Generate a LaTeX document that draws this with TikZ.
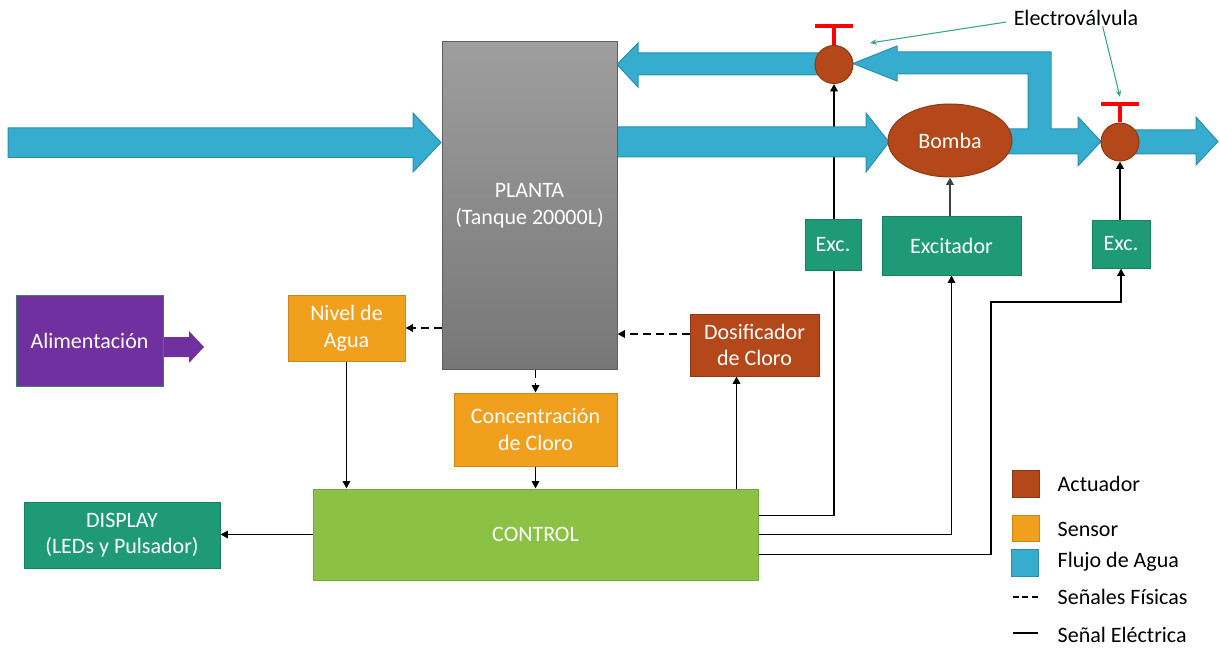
\documentclass[tikz,border=0pt]{standalone}
\usepackage{fontspec}
\setmainfont{Carlito}
\usetikzlibrary{arrows.meta,shapes.geometric,calc}

\definecolor{flowfill}{HTML}{36ADCF}
\definecolor{flowedge}{HTML}{2B8EAD}
\definecolor{actfill}{HTML}{B4481A}
\definecolor{actedge}{HTML}{8E3814}
\definecolor{senfill}{HTML}{F0A01C}
\definecolor{senedge}{HTML}{C98619}
\definecolor{excfill}{HTML}{1E9A77}
\definecolor{excedge}{HTML}{17805F}
\definecolor{ctrlfill}{HTML}{8BC145}
\definecolor{ctrledge}{HTML}{77A83A}
\definecolor{powfill}{HTML}{7030A0}
\definecolor{powedge}{HTML}{3E7F6E}
\definecolor{tanktop}{HTML}{9E9E9E}
\definecolor{tankbot}{HTML}{777777}
\definecolor{tankedge}{HTML}{5E5E5E}
\definecolor{notegreen}{HTML}{3AA57F}

\pgfdeclarelayer{wires}
\pgfsetlayers{wires,main}

\begin{document}
\begin{tikzpicture}[x=0.75pt,y=-0.75pt,
  every node/.style={font=\fontsize{16.5pt}{20pt}\selectfont, text=white, align=center},
  sz/.style 2 args={minimum width=#1*0.75pt, minimum height=#2*0.75pt},
  box/.style={rectangle, inner sep=0pt, line width=0.75pt},
  tankbox/.style={box, draw=tankedge, top color=tanktop, bottom color=tankbot},
  actbox/.style={box, fill=actfill, draw=actedge},
  senbox/.style={box, fill=senfill, draw=senedge},
  excbox/.style={box, fill=excfill, draw=excedge},
  ctrlbox/.style={box, fill=ctrlfill, draw=ctrledge},
  powbox/.style={box, fill=powfill, draw=powedge},
  flowbox/.style={box, fill=flowfill, draw=flowedge},
  valve/.style={circle, inner sep=0pt, minimum size=28.5pt, fill=actfill, draw=actedge, line width=0.75pt},
  flow/.style={fill=flowfill, draw=flowedge, line width=0.75pt, line join=miter},
  sig/.style={line width=1.4pt, draw=black},
  phys/.style={line width=1.4pt, draw=black, dash pattern=on 6pt off 3.75pt},
  tip/.style={-{Triangle[length=5.5pt,width=5.5pt]}},
  stem/.style={draw=red, line width=2.4pt},
  teebar/.style={draw=red, line width=3pt},
  note/.style={draw=notegreen, line width=0.8pt, -{Stealth[length=5pt,width=4pt]}},
  legtext/.style={text=black, anchor=west}
]
\useasboundingbox (0,0) rectangle (1220,649);

% ---------- water flow arrows ----------
% inlet
\draw[flow] (8,128) -- (413,128) -- (413,113) -- (441,142.5) -- (413,172) -- (413,157.5) -- (8,157.5) -- cycle;
% tank to pump
\draw[flow] (617,127) -- (866,127) -- (866,113) -- (889,142) -- (866,172) -- (866,157) -- (617,157) -- cycle;
% pump outlet with recirculation branch
\draw[flow] (1000,129) -- (1028,129) -- (1028,74) -- (897,74) -- (897,81) -- (853,63.5)
  -- (897,46) -- (897,52) -- (1051,52) -- (1051,129) -- (1078,129) -- (1078,117)
  -- (1101,141.5) -- (1078,166) -- (1078,154) -- (1000,154) -- cycle;
% recirculation back into the tank
\draw[flow] (825,53) -- (638,53) -- (638,43) -- (617,64.5) -- (638,87) -- (638,75) -- (825,75) -- cycle;
% final outlet
\draw[flow] (1130,130) -- (1196,130) -- (1196,117) -- (1218,141.5) -- (1196,165) -- (1196,154) -- (1130,154) -- cycle;

% ---------- blocks ----------
\node[tankbox, sz={175}{327}] (planta) at (529.5,205.5) {PLANTA\\(Tanque 20000L)};
\node[ellipse, inner sep=0pt, minimum width=93pt, minimum height=54.75pt,
      fill=actfill, draw=actedge, line width=0.75pt] (bomba) at (950,140.5) {Bomba};
\node[valve] (v1) at (834,64.5) {};
\node[valve] (v2) at (1120,142) {};

\node[excbox, sz={56}{51}] (exc1) at (833,244.5) {Exc.};
\node[excbox, sz={139}{59}] (excit) at (951.5,245.5) {Excitador};
\node[excbox, sz={58}{48}] (exc2) at (1121,244) {Exc.};

\node[senbox, sz={117}{66}] (nivel) at (346.5,328) {Nivel de\\Agua};
\node[actbox, sz={129}{62}] (dosif) at (754.5,345) {Dosificador\\de Cloro};
\node[senbox, sz={163}{73}] (conc) at (535.5,429.5) {Concentración\\de Cloro};
\node[ctrlbox, sz={445}{91}] (control) at (535.5,534.5) {CONTROL};
\node[excbox, sz={196}{66}] (display) at (122,535) {DISPLAY\\(LEDs y Pulsador)};

% power supply with its outgoing arrow
\fill[powfill] (160,337) -- (189,337) -- (189,331) -- (204,347) -- (189,363) -- (189,357) -- (160,357) -- cycle;
\node[powbox, sz={147}{91}] (power) at (89.5,340.5) {Alimentación};

% valve handles
\draw[stem] (v1.north) -- ++(0,-19) coordinate (v1top);
\draw[teebar] ([xshift=-14pt]v1top) -- ([xshift=14pt]v1top);
\draw[stem] (v2.north) -- ++(0,-18) coordinate (v2top);
\draw[teebar] ([xshift=-14pt]v2top) -- ([xshift=14pt]v2top);

% valve callout
\node[text=black] (ev) at (1076,18) {Electroválvula};
\coordinate (ev1) at (870,43);
\coordinate (ev2) at (1120,97);
\draw[note] ([xshift=-2pt,yshift=-3pt]ev.west) -- (ev1);
\draw[note] ([xshift=20pt,yshift=3pt]ev.south) -- (ev2);

% ---------- signals ----------
\begin{pgfonlayer}{wires}
  % physical signals
  \draw[phys,tip] (planta.west |- nivel.east) -- (nivel.east);
  \draw[phys,tip] ([yshift=8.25pt]dosif.west) -- ([yshift=8.25pt]dosif.west -| planta.east);
  \draw[phys,tip] (conc.north |- planta.south) -- (conc.north);
  % electrical signals
  \draw[sig,tip] (nivel.south) -- (nivel.south |- control.north);
  \draw[sig,tip] (conc.south) -- (conc.south |- control.north);
  \draw[sig,tip] ([xshift=-13.5pt]dosif.south |- control.north) -- ([xshift=-13.5pt]dosif.south);
  \draw[sig,tip] (control.west) -- (control.west -| display.east);
  \draw[sig,tip] (v1.south |- exc1.north) -- (v1.south);
  \draw[sig,tip,draw=black!75] (bomba.south |- excit.north) -- (bomba.south);
  \draw[sig,tip] (v2.south |- exc2.north) -- (v2.south);
  \draw[sig] (control.east) ++(0,-19) -| (v1.south |- exc1.south);
  \draw[sig,tip] (control.east) -| (excit.south);
  \coordinate (bend) at (991,302);
  \draw[sig,tip] (control.east) ++(0,20) -| (bend) -| (exc2.south);
\end{pgfonlayer}

% ---------- legend ----------
\node[actbox, sz={27}{27}] (legact) at (1025.5,483.5) {};
\node[legtext] (legacttxt) at (1053,484) {Actuador};
\node[senbox, sz={27}{26}] (legsen) at (1025.5,528) {};
\node[legtext] (legsentxt) at (1053,529) {Sensor};
\node[flowbox, sz={27}{27}] (legflow) at (1024.5,562.5) {};
\node[legtext] (legflowtxt) at (1053,562) {Flujo de Agua};
\coordinate (ld1) at (1013,597);
\coordinate (ld2) at (1038,597);
\draw[line width=1.4pt, dash pattern=on 4.5pt off 2.5pt] (ld1) -- (ld2);
\node[legtext] (legphystxt) at (1053,597) {Señales Físicas};
\coordinate (ls1) at (1013,633);
\coordinate (ls2) at (1038,633);
\draw[line width=1.4pt] (ls1) -- (ls2);
\node[legtext] (legsigtxt) at (1053,635) {Señal Eléctrica};
\end{tikzpicture}
\end{document}
